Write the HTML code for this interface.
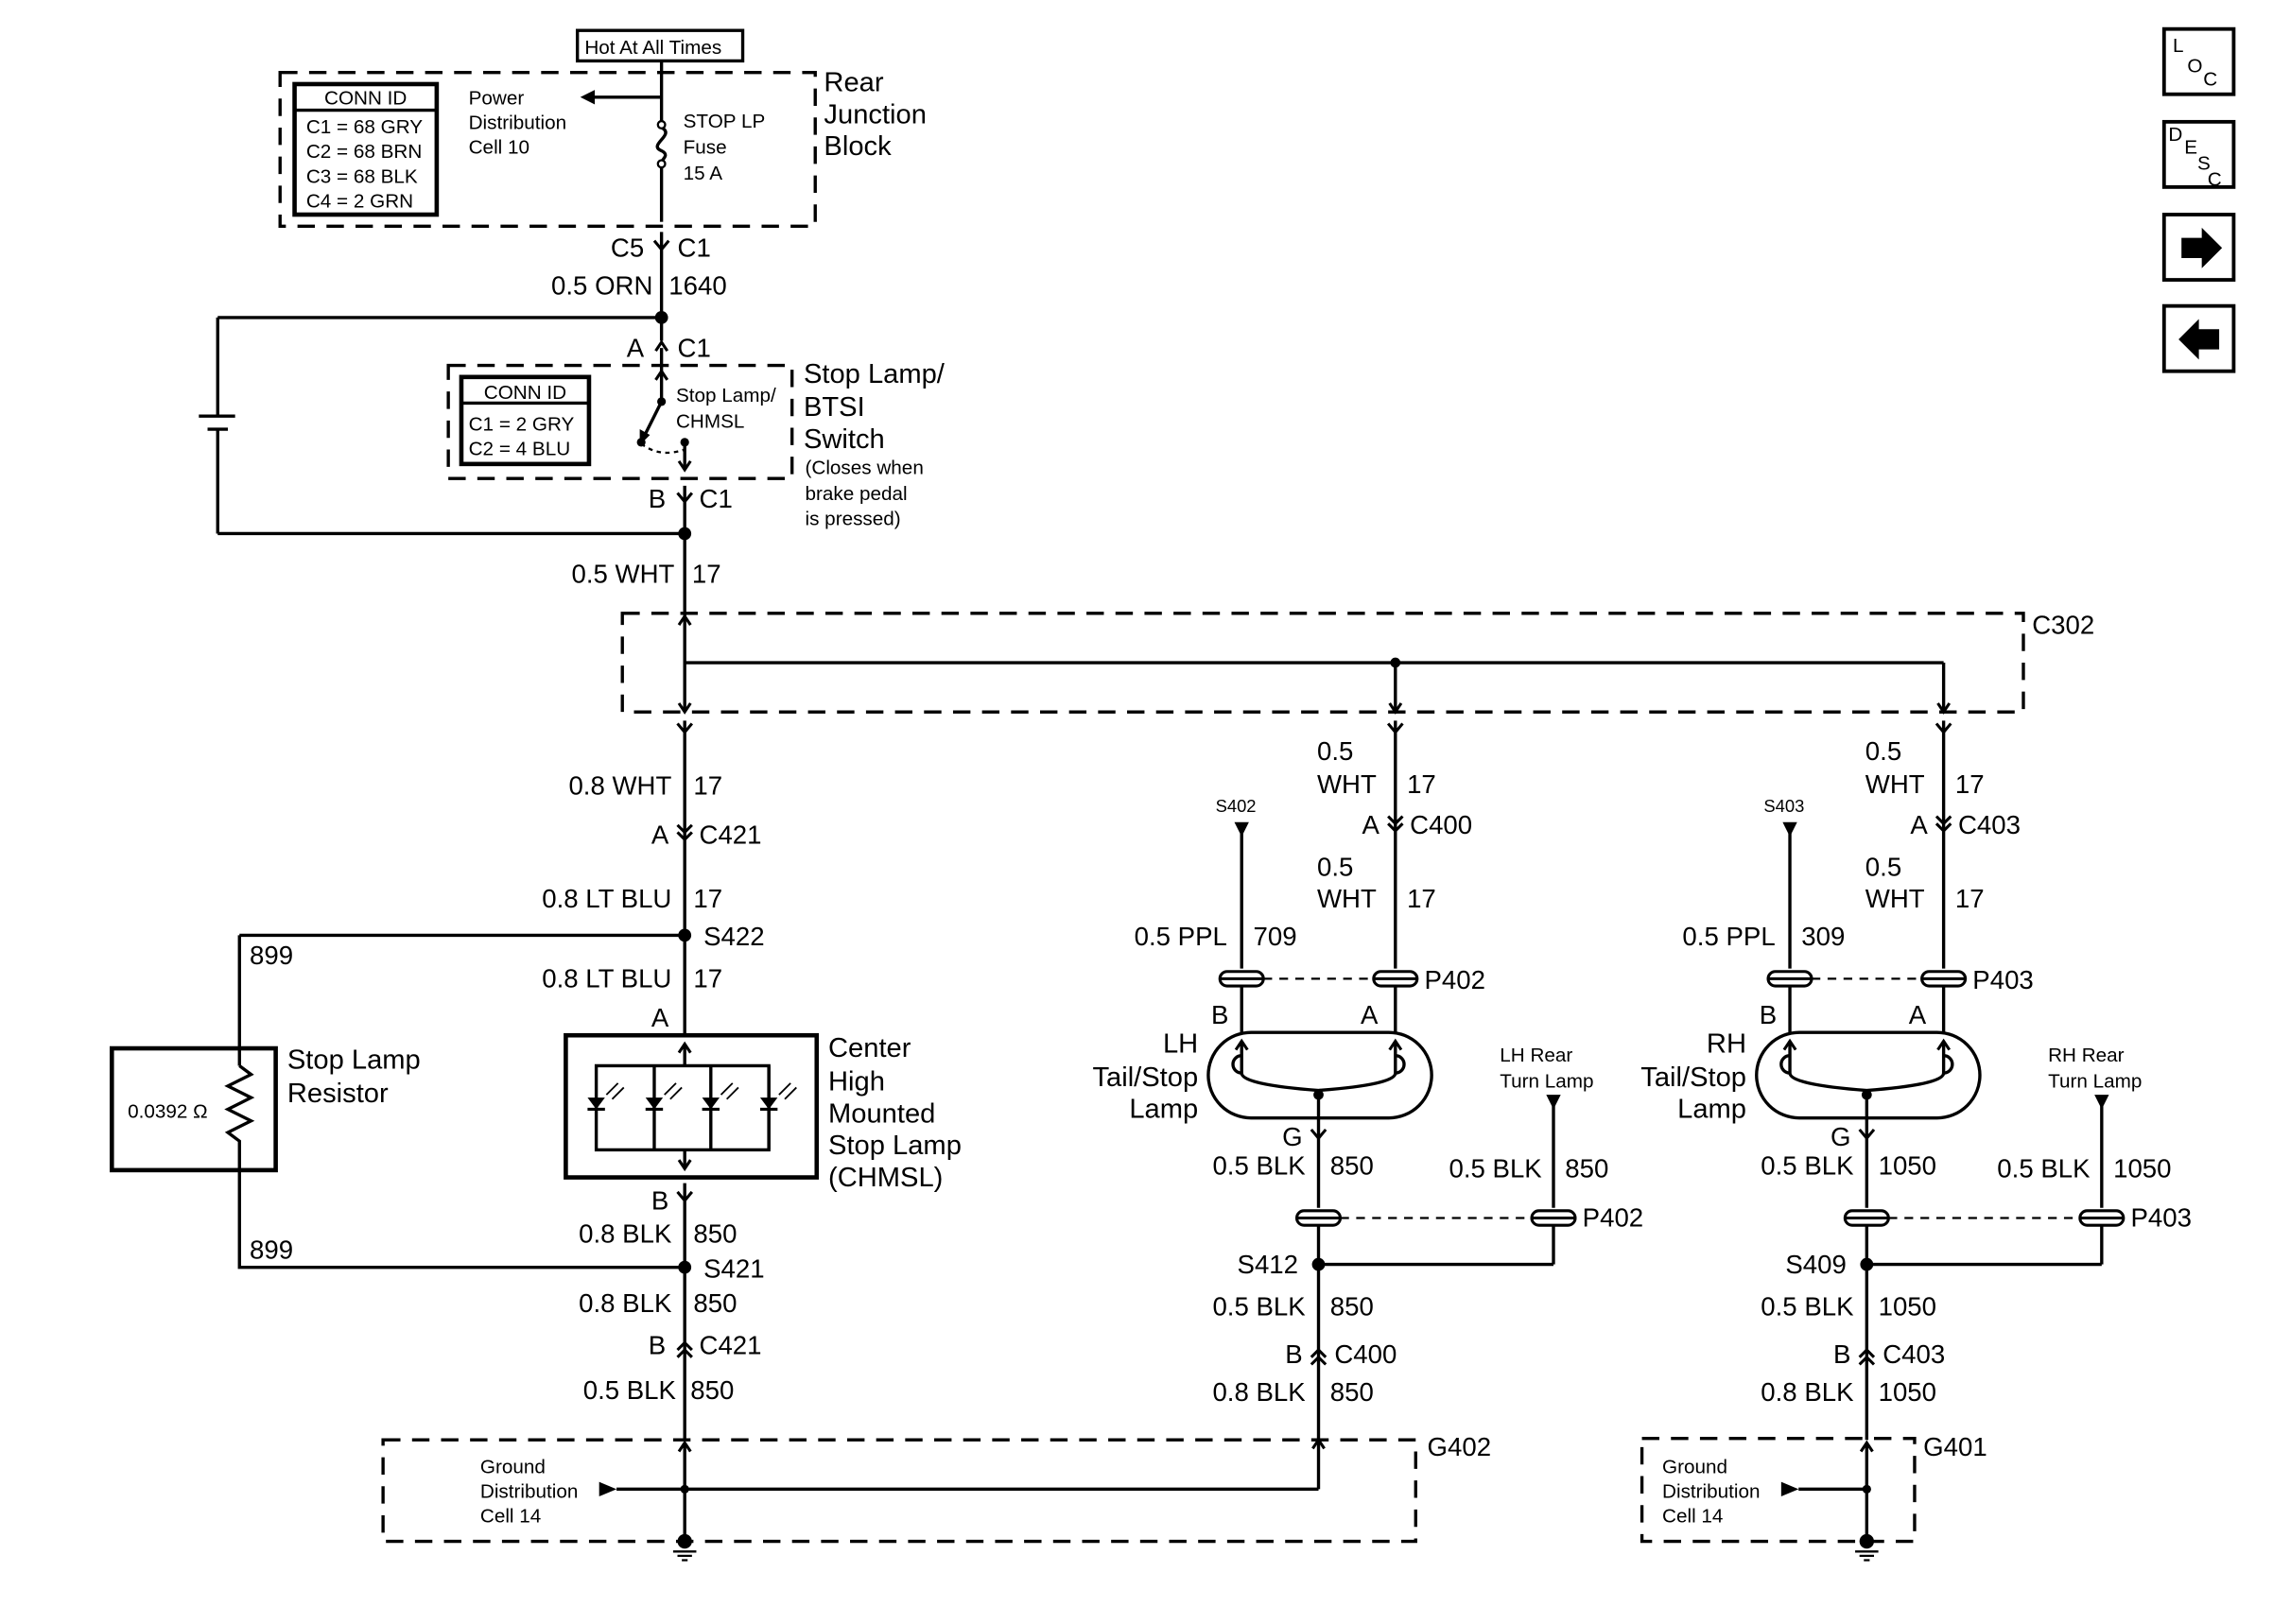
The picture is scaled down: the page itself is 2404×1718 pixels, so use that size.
<!DOCTYPE html>
<html><head><meta charset="utf-8"><style>
html,body{margin:0;padding:0;background:#fff;}
svg{display:block;}
text{font-family:"Liberation Sans",Arial,sans-serif;fill:#000;}
.b{font-size:19px;}
.m{font-size:18px;}
.s{font-size:13.5px;}
.r{text-anchor:end;}
</style></head><body>
<svg width="2404" height="1718" viewBox="0 0 1567 1120" xmlns="http://www.w3.org/2000/svg">
<defs>
<path id="fy" d="M-5,-6 L0,0 L5,-6" fill="none" stroke="#000" stroke-width="2"/>
<path id="dd" d="M-5,-8 L0,-3 L5,-8 M-5,-3 L0,2 L5,-3" fill="none" stroke="#000" stroke-width="2"/>
<path id="du" d="M-5,8 L0,3 L5,8 M-5,3 L0,-2 L5,3" fill="none" stroke="#000" stroke-width="2"/>
<path id="au" d="M-4,6 L0,0 L4,6" fill="none" stroke="#000" stroke-width="2"/>
<path id="ad" d="M-4,-6 L0,0 L4,-6" fill="none" stroke="#000" stroke-width="2"/>
<g id="pc"><rect x="-15" y="-5" width="30" height="10" rx="5" fill="#fff" stroke="#000" stroke-width="2"/><line x1="-15" y1="0" x2="15" y2="0" stroke="#000" stroke-width="2"/></g>
<g id="gnd"><circle r="5" fill="#000"/><path d="M-8,7 H8 M-5,10 H5 M-2,13 H2" stroke="#000" stroke-width="1.5"/></g>
</defs>
<g stroke="#000" stroke-width="2.2" fill="none">
<rect x="398" y="21" width="114" height="21"/>
<rect x="193" y="50" width="369" height="106" stroke-dasharray="12,8"/>
<rect x="203" y="58" width="98" height="90" stroke-width="3"/>
<line x1="203" y1="76" x2="301" y2="76"/>
<line x1="456" y1="42" x2="456" y2="84"/>
<path d="M456,114 V153"/>
<path d="M456,88 C466,93 446,100 456,104 C462,107 456,110 456,112"/>
<line x1="456" y1="67" x2="405" y2="67"/>
<line x1="456" y1="160" x2="456" y2="235"/>
<line x1="456" y1="219" x2="150" y2="219"/>
<line x1="150" y1="219" x2="150" y2="287"/>
<line x1="150" y1="296" x2="150" y2="368"/>
<line x1="137" y1="287" x2="162" y2="287"/>
<line x1="143" y1="296" x2="157" y2="296"/>
<line x1="150" y1="368" x2="472" y2="368"/>
<line x1="456" y1="240" x2="456" y2="277"/>
<rect x="309" y="252" width="237" height="78" stroke-dasharray="12,8"/>
<rect x="318" y="260" width="88" height="60" stroke-width="3"/>
<line x1="318" y1="278" x2="406" y2="278"/>
<path d="M456,277 L443,303"/>
<line x1="472" y1="305" x2="472" y2="324"/>
<path d="M442,306 Q455,316 472,310" stroke-dasharray="3,3" stroke-width="1.5"/>
<line x1="472" y1="335" x2="472" y2="425"/>
<rect x="429" y="423" width="966" height="68" stroke-dasharray="12,8"/>
<line x1="472" y1="425" x2="472" y2="491"/>
<line x1="472" y1="457" x2="1340" y2="457"/>
<line x1="962" y1="457" x2="962" y2="491"/>
<line x1="1340" y1="457" x2="1340" y2="491"/>
<line x1="472" y1="497" x2="472" y2="714"/>
<line x1="472" y1="645" x2="165" y2="645"/>
<line x1="165" y1="645" x2="165" y2="735"/>
<path d="M165,735 L173,741 L157,749 L173,757 L157,765 L173,773 L157,781 L165,787 V874 H472"/>
<rect x="77" y="723" width="113" height="84" stroke-width="3"/>
<rect x="390" y="714" width="173" height="98" stroke-width="3"/>
<rect x="411" y="735" width="119" height="58"/>
<line x1="472" y1="720" x2="472" y2="735"/>
<line x1="472" y1="793" x2="472" y2="806"/>
<line x1="451" y1="735" x2="451" y2="793"/>
<line x1="490" y1="735" x2="490" y2="793"/>
<line x1="530" y1="735" x2="530" y2="793"/>
<line x1="472" y1="816" x2="472" y2="993"/>
<rect x="264" y="993" width="712" height="70" stroke-dasharray="12,8"/>
<line x1="472" y1="995" x2="472" y2="1063"/>
<line x1="425" y1="1027" x2="909" y2="1027"/>
<line x1="909" y1="993" x2="909" y2="1027"/>
<line x1="962" y1="497" x2="962" y2="668"/>
<line x1="856" y1="572" x2="856" y2="668"/>
<line x1="871" y1="675" x2="947" y2="675" stroke-dasharray="6,5" stroke-width="1.5"/>
<line x1="856" y1="680" x2="856" y2="712"/>
<line x1="962" y1="680" x2="962" y2="712"/>
<rect x="833" y="712" width="154" height="59" rx="29.5"/>
<path d="M856,718 V740 Q856,748 909,752 Q962,748 962,740 V718"/>
<path d="M856,728 a6,6 0 1 0 0,12 M962,728 a6,6 0 1 1 0,12"/>
<line x1="909" y1="752" x2="909" y2="833"/>
<line x1="909" y1="845" x2="909" y2="993"/>
<line x1="1071" y1="760" x2="1071" y2="833"/>
<line x1="1071" y1="845" x2="1071" y2="872"/>
<line x1="909" y1="872" x2="1071" y2="872"/>
<line x1="924" y1="840" x2="1056" y2="840" stroke-dasharray="6,5" stroke-width="1.5"/>
<line x1="1340" y1="497" x2="1340" y2="668"/>
<line x1="1234" y1="572" x2="1234" y2="668"/>
<line x1="1249" y1="675" x2="1325" y2="675" stroke-dasharray="6,5" stroke-width="1.5"/>
<line x1="1234" y1="680" x2="1234" y2="712"/>
<line x1="1340" y1="680" x2="1340" y2="712"/>
<rect x="1211" y="712" width="154" height="59" rx="29.5"/>
<path d="M1234,718 V740 Q1234,748 1287,752 Q1340,748 1340,740 V718"/>
<path d="M1234,728 a6,6 0 1 0 0,12 M1340,728 a6,6 0 1 1 0,12"/>
<line x1="1287" y1="752" x2="1287" y2="833"/>
<line x1="1287" y1="845" x2="1287" y2="993"/>
<line x1="1449" y1="760" x2="1449" y2="833"/>
<line x1="1449" y1="845" x2="1449" y2="872"/>
<line x1="1287" y1="872" x2="1449" y2="872"/>
<line x1="1302" y1="840" x2="1434" y2="840" stroke-dasharray="6,5" stroke-width="1.5"/>
<rect x="1132" y="992" width="188" height="71" stroke-dasharray="12,8"/>
<line x1="1287" y1="995" x2="1287" y2="1063"/>
<line x1="1240" y1="1027" x2="1287" y2="1027"/>
<rect x="1492" y="20" width="48" height="45" stroke-width="2.5"/>
<rect x="1492" y="84" width="48" height="45" stroke-width="2.5"/>
<rect x="1492" y="148" width="48" height="45" stroke-width="2.5"/>
<rect x="1492" y="211" width="48" height="45" stroke-width="2.5"/>
</g>
<g fill="#000">
<path d="M400,67 L410,62 L410,72 Z"/>
<circle cx="456" cy="86" r="2.5" fill="#fff" stroke="#000" stroke-width="1.5"/>
<circle cx="456" cy="113" r="2.5" fill="#fff" stroke="#000" stroke-width="1.5"/>
<circle cx="456" cy="219" r="4.5"/>
<circle cx="472" cy="368" r="4.5"/>
<circle cx="456" cy="277" r="3"/>
<circle cx="442" cy="305" r="3"/>
<circle cx="472" cy="305" r="3"/>
<path d="M441,307 L441,296 L448,300 Z"/>
<circle cx="962" cy="457" r="3.5"/>
<circle cx="472" cy="645" r="4.5"/>
<circle cx="472" cy="874" r="4.5"/>
<circle cx="909" cy="872" r="4.5"/>
<circle cx="1287" cy="872" r="4.5"/>
<circle cx="909" cy="755" r="3.5"/>
<circle cx="1287" cy="755" r="3.5"/>
<circle cx="472" cy="1027" r="3"/>
<circle cx="1287" cy="1027" r="3"/>
<path d="M851,567 H861 L856,577 Z"/>
<path d="M1229,567 H1239 L1234,577 Z"/>
<path d="M1066,755 H1076 L1071,765 Z"/>
<path d="M1444,755 H1454 L1449,765 Z"/>
<path d="M425,1027 L413,1022 L413,1032 Z"/>
<path d="M1240,1027 L1228,1022 L1228,1032 Z"/>
<path d="M405,757 h12 l-6,8 z M445,757 h12 l-6,8 z M484,757 h12 l-6,8 z M524,757 h12 l-6,8 z"/>
<path d="M1504,164 h14 v-7 l14,14 l-14,14 v-7 h-14 z"/>
<path d="M1530,227 h-14 v-7 l-14,14 l14,14 v-7 h14 z"/>
</g>
<g stroke="#000" stroke-width="2" fill="none">
<path d="M405,765 h12 M445,765 h12 M484,765 h12 M524,765 h12"/>
<path d="M418,755 l8,-8 M422,758 l8,-8 M458,755 l8,-8 M462,758 l8,-8 M497,755 l8,-8 M501,758 l8,-8 M537,755 l8,-8 M541,758 l8,-8" stroke-width="1.2"/>
</g>
<use href="#fy" x="456" y="172"/>
<use href="#au" x="456" y="236"/>
<use href="#au" x="456" y="256"/>
<use href="#ad" x="472" y="324"/>
<use href="#fy" x="472" y="346"/>
<use href="#au" x="472" y="425"/>
<use href="#ad" x="472" y="491"/>
<use href="#ad" x="962" y="491"/>
<use href="#ad" x="1340" y="491"/>
<use href="#fy" x="472" y="505"/>
<use href="#fy" x="962" y="505"/>
<use href="#fy" x="1340" y="505"/>
<use href="#dd" x="472" y="577"/>
<use href="#dd" x="962" y="571"/>
<use href="#dd" x="1340" y="571"/>
<use href="#au" x="472" y="720"/>
<use href="#ad" x="472" y="806"/>
<use href="#fy" x="472" y="828"/>
<use href="#du" x="472" y="928"/>
<use href="#du" x="909" y="933"/>
<use href="#du" x="1287" y="933"/>
<use href="#au" x="472" y="995"/>
<use href="#au" x="909" y="993"/>
<use href="#au" x="1287" y="995"/>
<use href="#au" x="856" y="718"/>
<use href="#au" x="962" y="718"/>
<use href="#au" x="1234" y="718"/>
<use href="#au" x="1340" y="718"/>
<use href="#fy" x="909" y="785"/>
<use href="#fy" x="1287" y="785"/>
<use href="#pc" x="856" y="675"/>
<use href="#pc" x="962" y="675"/>
<use href="#pc" x="1234" y="675"/>
<use href="#pc" x="1340" y="675"/>
<use href="#pc" x="909" y="840"/>
<use href="#pc" x="1071" y="840"/>
<use href="#pc" x="1287" y="840"/>
<use href="#pc" x="1449" y="840"/>
<use href="#gnd" x="472" y="1063"/>
<use href="#gnd" x="1287" y="1063"/>
<text x="403" y="37" class="s">Hot At All Times</text>
<text x="252" y="72" class="s" text-anchor="middle">CONN ID</text>
<text x="211" y="92" class="s">C1 = 68 GRY</text>
<text x="211" y="109" class="s">C2 = 68 BRN</text>
<text x="211" y="126" class="s">C3 = 68 BLK</text>
<text x="211" y="143" class="s">C4 = 2 GRN</text>
<text x="323" y="72" class="s">Power</text>
<text x="323" y="89" class="s">Distribution</text>
<text x="323" y="106" class="s">Cell 10</text>
<text x="471" y="88" class="s">STOP LP</text>
<text x="471" y="106" class="s">Fuse</text>
<text x="471" y="124" class="s">15 A</text>
<text x="568" y="63" class="b">Rear</text>
<text x="568" y="85" class="b">Junction</text>
<text x="568" y="107" class="b">Block</text>
<text x="444" y="177" class="m r">C5</text>
<text x="467" y="177" class="m">C1</text>
<text x="450" y="203" class="m r">0.5 ORN</text>
<text x="461" y="203" class="m">1640</text>
<text x="444" y="246" class="m r">A</text>
<text x="467" y="246" class="m">C1</text>
<text x="362" y="275" class="s" text-anchor="middle">CONN ID</text>
<text x="323" y="297" class="s">C1 = 2 GRY</text>
<text x="323" y="314" class="s">C2 = 4 BLU</text>
<text x="466" y="277" class="s">Stop Lamp/</text>
<text x="466" y="295" class="s">CHMSL</text>
<text x="554" y="264" class="b">Stop Lamp/</text>
<text x="554" y="287" class="b">BTSI</text>
<text x="554" y="309" class="b">Switch</text>
<text x="555" y="327" class="s">(Closes when</text>
<text x="555" y="345" class="s">brake pedal</text>
<text x="555" y="362" class="s">is pressed)</text>
<text x="459" y="350" class="m r">B</text>
<text x="482" y="350" class="m">C1</text>
<text x="465" y="402" class="m r">0.5 WHT</text>
<text x="477" y="402" class="m">17</text>
<text x="1401" y="437" class="m">C302</text>
<text x="463" y="548" class="m r">0.8 WHT</text>
<text x="478" y="548" class="m">17</text>
<text x="461" y="582" class="m r">A</text>
<text x="482" y="582" class="m">C421</text>
<text x="463" y="626" class="m r">0.8 LT BLU</text>
<text x="478" y="626" class="m">17</text>
<text x="485" y="652" class="m">S422</text>
<text x="172" y="665" class="m">899</text>
<text x="463" y="681" class="m r">0.8 LT BLU</text>
<text x="478" y="681" class="m">17</text>
<text x="461" y="708" class="m r">A</text>
<text x="198" y="737" class="b">Stop Lamp</text>
<text x="198" y="760" class="b">Resistor</text>
<text x="88" y="771" class="s">0.0392 Ω</text>
<text x="571" y="729" class="b">Center</text>
<text x="571" y="752" class="b">High</text>
<text x="571" y="774" class="b">Mounted</text>
<text x="571" y="796" class="b">Stop Lamp</text>
<text x="571" y="818" class="b">(CHMSL)</text>
<text x="461" y="834" class="m r">B</text>
<text x="463" y="857" class="m r">0.8 BLK</text>
<text x="478" y="857" class="m">850</text>
<text x="172" y="868" class="m">899</text>
<text x="485" y="881" class="m">S421</text>
<text x="463" y="905" class="m r">0.8 BLK</text>
<text x="478" y="905" class="m">850</text>
<text x="459" y="934" class="m r">B</text>
<text x="482" y="934" class="m">C421</text>
<text x="466" y="965" class="m r">0.5 BLK</text>
<text x="476" y="965" class="m">850</text>
<text x="984" y="1004" class="m">G402</text>
<text x="331" y="1016" class="s">Ground</text>
<text x="331" y="1033" class="s">Distribution</text>
<text x="331" y="1050" class="s">Cell 14</text>
<text x="908" y="524" class="m">0.5</text>
<text x="908" y="547" class="m">WHT</text>
<text x="970" y="547" class="m">17</text>
<text x="951" y="575" class="m r">A</text>
<text x="972" y="575" class="m">C400</text>
<text x="908" y="604" class="m">0.5</text>
<text x="908" y="626" class="m">WHT</text>
<text x="970" y="626" class="m">17</text>
<text x="838" y="560" class="s" style="font-size:12px">S402</text>
<text x="846" y="652" class="m r">0.5 PPL</text>
<text x="864" y="652" class="m">709</text>
<text x="982" y="682" class="m">P402</text>
<text x="847" y="706" class="m r">B</text>
<text x="950" y="706" class="m r">A</text>
<text x="826" y="726" class="b r">LH</text>
<text x="826" y="749" class="b r">Tail/Stop</text>
<text x="826" y="771" class="b r">Lamp</text>
<text x="1034" y="732" class="s">LH Rear</text>
<text x="1034" y="750" class="s">Turn Lamp</text>
<text x="898" y="790" class="m r">G</text>
<text x="900" y="810" class="m r">0.5 BLK</text>
<text x="917" y="810" class="m">850</text>
<text x="1063" y="812" class="m r">0.5 BLK</text>
<text x="1079" y="812" class="m">850</text>
<text x="1091" y="846" class="m">P402</text>
<text x="895" y="878" class="m r">S412</text>
<text x="900" y="907" class="m r">0.5 BLK</text>
<text x="917" y="907" class="m">850</text>
<text x="898" y="940" class="m r">B</text>
<text x="920" y="940" class="m">C400</text>
<text x="900" y="966" class="m r">0.8 BLK</text>
<text x="917" y="966" class="m">850</text>
<text x="1286" y="524" class="m">0.5</text>
<text x="1286" y="547" class="m">WHT</text>
<text x="1348" y="547" class="m">17</text>
<text x="1329" y="575" class="m r">A</text>
<text x="1350" y="575" class="m">C403</text>
<text x="1286" y="604" class="m">0.5</text>
<text x="1286" y="626" class="m">WHT</text>
<text x="1348" y="626" class="m">17</text>
<text x="1216" y="560" class="s" style="font-size:12px">S403</text>
<text x="1224" y="652" class="m r">0.5 PPL</text>
<text x="1242" y="652" class="m">309</text>
<text x="1360" y="682" class="m">P403</text>
<text x="1225" y="706" class="m r">B</text>
<text x="1328" y="706" class="m r">A</text>
<text x="1204" y="726" class="b r">RH</text>
<text x="1204" y="749" class="b r">Tail/Stop</text>
<text x="1204" y="771" class="b r">Lamp</text>
<text x="1412" y="732" class="s">RH Rear</text>
<text x="1412" y="750" class="s">Turn Lamp</text>
<text x="1276" y="790" class="m r">G</text>
<text x="1278" y="810" class="m r">0.5 BLK</text>
<text x="1295" y="810" class="m">1050</text>
<text x="1441" y="812" class="m r">0.5 BLK</text>
<text x="1457" y="812" class="m">1050</text>
<text x="1469" y="846" class="m">P403</text>
<text x="1273" y="878" class="m r">S409</text>
<text x="1278" y="907" class="m r">0.5 BLK</text>
<text x="1295" y="907" class="m">1050</text>
<text x="1276" y="940" class="m r">B</text>
<text x="1298" y="940" class="m">C403</text>
<text x="1278" y="966" class="m r">0.8 BLK</text>
<text x="1295" y="966" class="m">1050</text>
<text x="1326" y="1004" class="m">G401</text>
<text x="1146" y="1016" class="s">Ground</text>
<text x="1146" y="1033" class="s">Distribution</text>
<text x="1146" y="1050" class="s">Cell 14</text>
<text x="1498" y="36" class="s">L</text>
<text x="1508" y="50" class="s">O</text>
<text x="1519" y="59" class="s">C</text>
<text x="1495" y="97" class="s">D</text>
<text x="1506" y="106" class="s">E</text>
<text x="1515" y="117" class="s">S</text>
<text x="1522" y="128" class="s">C</text>
</svg>
</body></html>
